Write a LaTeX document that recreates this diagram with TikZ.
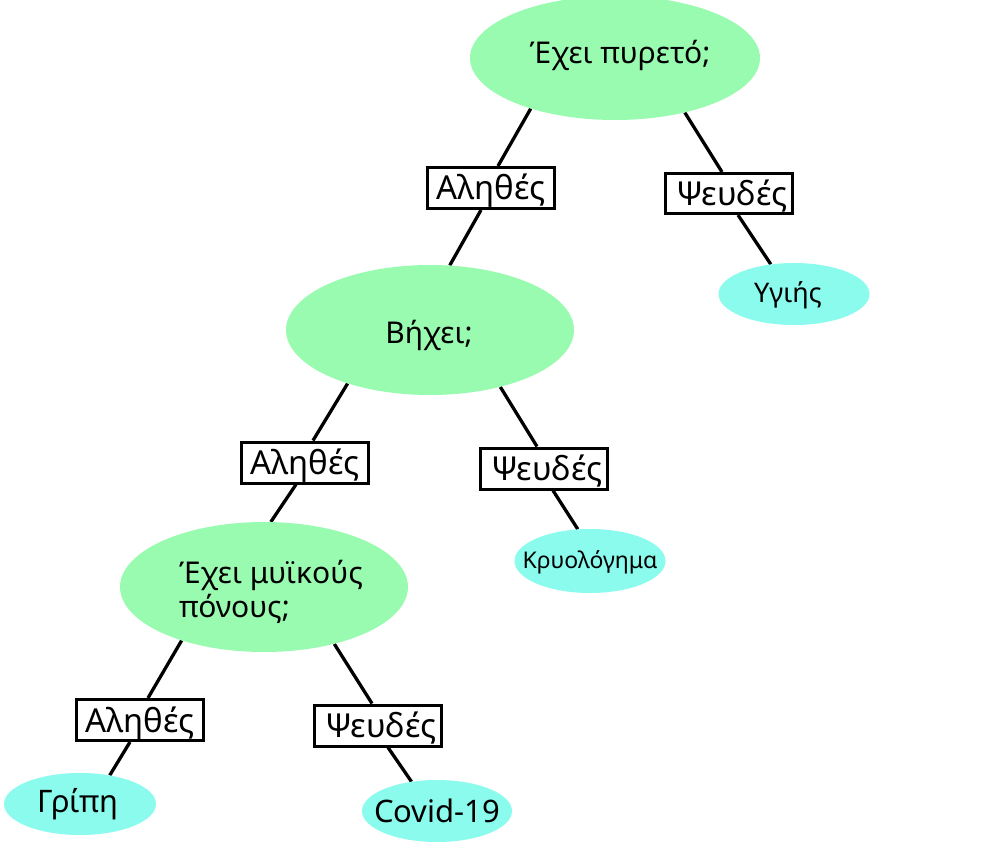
\documentclass[tikz,border=0pt]{standalone}
\usepackage{fontspec}
\setmainfont{Noto Sans}
\usetikzlibrary{shapes.geometric,calc,backgrounds}
\definecolor{qgreen}{RGB}{153,251,176}
\definecolor{leafcyan}{RGB}{138,251,236}
\begin{document}
\begin{tikzpicture}[x=1pt,y=-1pt,
  qnode/.style={ellipse,fill=qgreen,draw=none,inner sep=0pt,minimum width=288pt,minimum height=130pt},
  leaf/.style={ellipse,fill=leafcyan,draw=none,inner sep=0pt,minimum width=151pt,minimum height=62pt},
  tag/.style={rectangle,draw=black,line width=3pt,fill=white,inner sep=0pt,minimum width=127pt,minimum height=41pt,
    text height=29pt,text depth=5pt,font=\fontsize{33}{38}\selectfont},
  qtext/.style={inner sep=0pt,font=\fontsize{30}{34}\selectfont},
  ltext/.style={inner sep=0pt,font=\fontsize{31}{36}\selectfont},
  conn/.style={line width=3.3pt,draw=black}
]
\useasboundingbox (0,0) rectangle (1002,848);

% question ellipses
\node[qnode,minimum width=290pt,minimum height=124pt] (q1) at (615,58) {};
\node[qtext] (q1t) at (620,55) {Έχει πυρετό;};
\node[qnode] (q2) at (430,330) {};
\node[qtext] (q2t) at (429,335) {Βήχει;};
\node[qnode] (q3) at (264,587) {};
\node[qtext,align=left,font=\fontsize{30}{34}\selectfont] (q3t) at (271,592) {Έχει μυϊκούς\\πόνους;};

% answer boxes
\node[tag] (t1) at (491,188) {Αληθές};
\node[tag,minimum height=40pt] (f1) at (729,193.5) {\,Ψευδές};
\node[tag] (t2) at (305,462.5) {Αληθές};
\node[tag] (f2) at (544,468.5) {\,Ψευδές};
\node[tag] (t3) at (140,720) {Αληθές};
\node[tag] (f3) at (378,725.5) {\,Ψευδές};

% leaves
\node[leaf] (y) at (794,294) {};
\node[ltext,font=\fontsize{27}{32}\selectfont] (yt) at (788,295) {Υγιής};
\node[leaf,minimum height=64pt] (k) at (590,561) {};
\node[ltext,font=\fontsize{23}{28}\selectfont] (kt) at (590,562) {Κρυολόγημα};
\node[leaf,minimum width=152pt] (g) at (80,804) {};
\node[ltext] (gt) at (78,804) {Γρίπη};
\node[leaf,minimum width=150pt] (c) at (437,811) {};
\node[ltext] (ct) at (437,811) {Covid-19};

% connectors (behind the nodes)
\begin{pgfonlayer}{background}
\draw[conn] (q1.211) -- ($(t1.north)+(7,0)$);
\draw[conn] ($(t1.south)+(-10,0)$) -- (q2.73);
\draw[conn] (q1.322) -- ($(f1.north)+(-7,0)$);
\draw[conn] ($(f1.south)+(9,0)$) -- (y.128);
\draw[conn] (q2.213) -- ($(t2.north)+(8,0)$);
\draw[conn] ($(t2.south)+(-9,0)$) -- (q3.84);
\draw[conn] (q2.321) -- ($(f2.north)+(-7,0)$);
\draw[conn] ($(f2.south)+(9,0)$) -- (k.111);
\draw[conn] (q3.213) -- ($(t3.north)+(8,0)$);
\draw[conn] ($(t3.south)+(-10,0)$) -- (g.44);
\draw[conn] (q3.321) -- ($(f3.north)+(-6,0)$);
\draw[conn] ($(f3.south)+(10,0)$) -- (c.131);
\end{pgfonlayer}
\end{tikzpicture}
\end{document}
